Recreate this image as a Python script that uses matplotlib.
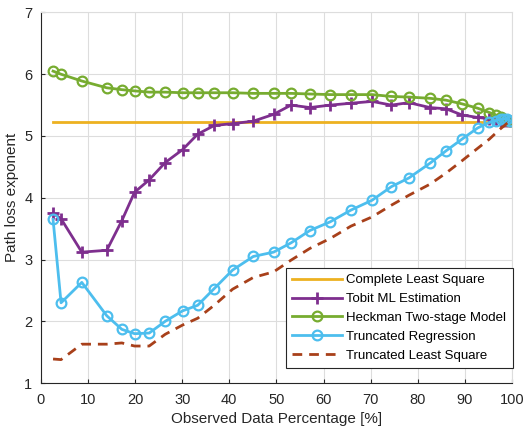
import numpy as np
import matplotlib.pyplot as plt

plt.rcParams['font.family'] = ['Liberation Sans', 'DejaVu Sans']

# observed data percentage (x positions of the estimates)
pct = [2.6, 4.3, 8.7, 14.0, 17.2, 19.9, 23.0, 26.4, 30.1, 33.3, 36.8, 40.7,
       45.1, 49.4, 53.1, 57.1, 61.4, 65.8, 70.3, 74.4, 78.1, 82.6, 86.0,
       89.4, 92.7, 95.2, 96.6, 97.6, 98.4, 99.0, 99.5]

complete_ls = 5.23

tobit = [3.75, 3.66, 3.12, 3.15, 3.63, 4.09, 4.29, 4.57, 4.78, 5.03, 5.17, 5.20,
         5.24, 5.35, 5.50, 5.46, 5.50, 5.53, 5.56, 5.50, 5.54, 5.46, 5.44,
         5.34, 5.30, 5.28, 5.26, 5.25, 5.25, 5.24, 5.24]

heckman = [6.05, 6.00, 5.89, 5.78, 5.75, 5.73, 5.71, 5.71, 5.70, 5.70, 5.70, 5.70,
           5.69, 5.69, 5.69, 5.68, 5.67, 5.67, 5.67, 5.64, 5.63, 5.61, 5.58,
           5.52, 5.45, 5.38, 5.34, 5.30, 5.28, 5.26, 5.25]

trunc_reg = [3.65, 2.30, 2.63, 2.09, 1.87, 1.80, 1.81, 2.00, 2.17, 2.26, 2.53, 2.83,
             3.05, 3.12, 3.27, 3.47, 3.61, 3.80, 3.96, 4.18, 4.32, 4.56, 4.76,
             4.95, 5.13, 5.22, 5.25, 5.27, 5.28, 5.27, 5.25]

trunc_ls = [1.39, 1.38, 1.63, 1.63, 1.65, 1.60, 1.60, 1.79, 1.94, 2.05, 2.26, 2.52,
            2.71, 2.80, 2.99, 3.18, 3.34, 3.54, 3.69, 3.88, 4.04, 4.22, 4.40,
            4.60, 4.80, 4.95, 5.05, 5.12, 5.17, 5.21, 5.24]

fig = plt.figure(figsize=(5.23, 4.29), dpi=100)
ax = fig.add_axes([0.078, 0.107, 0.901, 0.864])

ax.plot([pct[0], 100], [complete_ls, complete_ls], color='#EDB120', lw=2,
        label='Complete Least Square')
ax.plot(pct, tobit, color='#7E2F8E', lw=2, marker='+', ms=9, mew=2,
        label='Tobit ML Estimation')
ax.plot(pct, heckman, color='#77AC30', lw=2, marker='o', ms=7, mew=1.6,
        mfc='none', label='Heckman Two-stage Model')
ax.plot(pct, trunc_reg, color='#4DBEEE', lw=2, marker='o', ms=7, mew=1.6,
        mfc='none', label='Truncated Regression')
ax.plot(pct, trunc_ls, color='#A8401A', lw=2, ls=(0, (3.5, 2.5)),
        label='Truncated Least Square')

ax.set_xlim(0, 100)
ax.set_ylim(1, 7)
ax.set_xticks(np.arange(0, 101, 10))
ax.set_yticks(np.arange(1, 8, 1))
ax.grid(True, color='#DDDDDD', lw=0.8)
ax.set_axisbelow(True)
ax.tick_params(direction='in', labelsize=10.5, colors='#262626', length=3)
ax.tick_params(axis='x', pad=7)
ax.tick_params(axis='y', pad=6)
for s in ['top', 'right']:
    ax.spines[s].set_color('#DDDDDD')
for s in ['left', 'bottom']:
    ax.spines[s].set_color('#262626')
ax.set_xlabel('Observed Data Percentage [%]', fontsize=11, color='#262626')
ax.set_ylabel('Path loss exponent', fontsize=11, color='#262626')

leg = ax.legend(loc='lower right', bbox_to_anchor=(1.002, 0.04), fontsize=9.5,
                fancybox=False, edgecolor='#262626', framealpha=1,
                handlelength=3.8, borderpad=0.5, labelspacing=0.5,
                handletextpad=0.3, borderaxespad=0)
leg.get_frame().set_linewidth(0.8)

fig.savefig('out.png', dpi=100)
